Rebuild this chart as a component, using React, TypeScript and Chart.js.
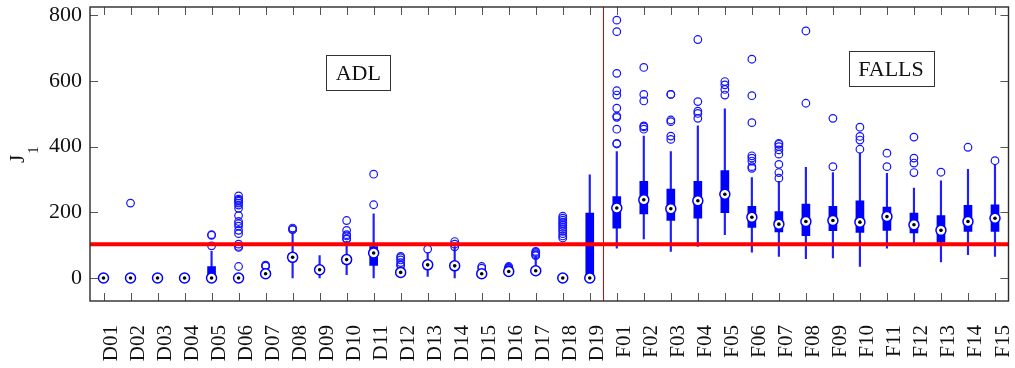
import { useEffect, useRef } from "react";
import { Chart, registerables } from "chart.js";

Chart.register(...registerables);

// Activity classes: daily-living activities (D) and fall types (F)
const categories = [
  "D01", "D02", "D03", "D04", "D05", "D06", "D07", "D08", "D09", "D10",
  "D11", "D12", "D13", "D14", "D15", "D16", "D17", "D18", "D19",
  "F01", "F02", "F03", "F04", "F05", "F06", "F07", "F08", "F09", "F10",
  "F11", "F12", "F13", "F14", "F15",
];

const medians = [
  0, 0, 0, 0, 0, 0, 13, 63, 25, 56, 76, 17, 40, 37, 13, 20, 22, 0, 0,
  213, 238, 211, 235, 255, 185, 164, 172, 175, 170, 187, 162, 145, 172, 182,
];

// Interquartile range (box)
const boxLow = [
  0, 0, 0, 0, 0, 0, 8, 52, 18, 45, 38, 10, 30, 28, 8, 14, 15, 0, 0,
  152, 195, 175, 182, 199, 154, 140, 129, 144, 139, 145, 137, 109, 142, 142,
];
const boxHigh = [
  0, 0, 0, 0, 35, 0, 20, 74, 34, 66, 96, 25, 50, 47, 20, 26, 30, 0, 198,
  248, 294, 271, 294, 327, 218, 202, 225, 218, 235, 216, 198, 190, 221, 223,
];

// Whisker extent
const whiskerLow = [
  0, 0, 0, 0, 0, 0, 5, 0, 0, 10, 0, 5, 5, 0, 5, 8, 10, 0, 0,
  91, 119, 81, 96, 132, 79, 66, 59, 61, 35, 91, 106, 49, 71, 66,
];
const whiskerHigh = [
  0, 0, 0, 0, 81, 0, 25, 140, 68, 112, 195, 30, 77, 96, 22, 30, 66, 0, 314,
  385, 432, 385, 463, 515, 306, 294, 337, 321, 380, 319, 274, 296, 331, 344,
];

const outliers: number[][] = [
  [],
  [228],
  [],
  [],
  [132, 130, 98],
  [250, 240, 237, 234, 228, 222, 212, 190, 172, 165, 158, 145, 135, 103, 96, 93, 35],
  [39, 37, 36],
  [152, 148, 147],
  [],
  [175, 145, 132, 128, 120, 118],
  [316, 223],
  [66, 62, 55, 47, 40, 38],
  [88],
  [111, 103, 95],
  [35, 30],
  [35, 32, 30, 28, 25, 22, 18],
  [81, 78, 74, 70, 68],
  [188, 182, 176, 170, 165, 160, 154, 148, 142, 135, 128, 122],
  [],
  [785, 750, 623, 570, 557, 517, 493, 489, 453, 410, 408],
  [641, 559, 539, 463, 460, 453],
  [559, 559, 481, 476, 432, 422],
  [726, 537, 508, 501, 486],
  [598, 588, 574, 557],
  [666, 555, 473, 372, 365, 356, 339, 334],
  [410, 407, 400, 390, 377, 346, 321, 304],
  [752, 532],
  [486, 339],
  [459, 431, 420, 392],
  [380, 339],
  [429, 365, 350, 321],
  [322],
  [398],
  [357],
];

const thresholdJ1 = 103;
const yTicks = [0, 200, 400, 600, 800];
const groupNames = ["ADL", "FALLS"];

const SERIF = "'Liberation Serif', 'Times New Roman', 'DejaVu Serif', serif";
const BLUE = "#0000ff";

const decorations = {
  id: "decorations",
  afterDatasetsDraw(chart: any) {
    const { ctx, chartArea } = chart;
    const { left, right, top, bottom } = chartArea;
    const xs = chart.scales.x;
    const ys = chart.scales.y;
    ctx.save();

    // separator between ADL and falls
    const sepX = xs.getPixelForValue(categories.indexOf("D19") + 0.5);
    ctx.strokeStyle = "rgb(225,0,0)";
    ctx.lineWidth = 1;
    ctx.beginPath();
    ctx.moveTo(Math.round(sepX) + 0.5, top);
    ctx.lineTo(Math.round(sepX) + 0.5, bottom);
    ctx.stroke();

    // detection threshold
    const ty = ys.getPixelForValue(thresholdJ1);
    ctx.strokeStyle = "#ff0000";
    ctx.lineWidth = 4;
    ctx.beginPath();
    ctx.moveTo(left, ty);
    ctx.lineTo(right, ty);
    ctx.stroke();

    // inward tick marks on all four sides
    ctx.strokeStyle = "#555";
    ctx.lineWidth = 1;
    ctx.beginPath();
    for (let i = 0; i < categories.length; i++) {
      const px = Math.round(xs.getPixelForValue(i)) + 0.5;
      ctx.moveTo(px, top);
      ctx.lineTo(px, top + 8);
      ctx.moveTo(px, bottom);
      ctx.lineTo(px, bottom - 8);
    }
    for (const v of yTicks) {
      const py = Math.round(ys.getPixelForValue(v)) + 0.5;
      ctx.moveTo(left, py);
      ctx.lineTo(left + 8, py);
      ctx.moveTo(right, py);
      ctx.lineTo(right - 8, py);
    }
    ctx.stroke();

    // frame
    ctx.strokeStyle = "#2b2b2b";
    ctx.lineWidth = 1.4;
    ctx.strokeRect(left, top, right - left, bottom - top);

    // group captions
    const anchors = [
      { x: 9.43, y: 625 },
      { x: 29.15, y: 637 },
    ];
    ctx.font = `22px ${SERIF}`;
    groupNames.forEach((name, k) => {
      const cx = xs.getPixelForValue(anchors[k].x);
      const cy = ys.getPixelForValue(anchors[k].y);
      const w = ctx.measureText(name).width + 19;
      const h = 35;
      ctx.fillStyle = "#fff";
      ctx.fillRect(cx - w / 2, cy - h / 2, w, h);
      ctx.strokeStyle = "#333";
      ctx.lineWidth = 1;
      ctx.strokeRect(Math.round(cx - w / 2) + 0.5, Math.round(cy - h / 2) + 0.5, Math.round(w), h);
      ctx.fillStyle = "#111";
      ctx.textAlign = "center";
      ctx.textBaseline = "alphabetic";
      ctx.fillText(name, cx, cy + 7.5);
    });

    // y-axis title J with subscript 1
    ctx.translate(24, 163);
    ctx.rotate(-Math.PI / 2);
    ctx.fillStyle = "#111";
    ctx.textAlign = "left";
    ctx.textBaseline = "alphabetic";
    ctx.font = `21px ${SERIF}`;
    ctx.fillText("J", 0, 0);
    const jw = ctx.measureText("J").width;
    ctx.font = `15px ${SERIF}`;
    ctx.fillText("1", jw + 1, 14);
    ctx.restore();
  },
};

export default function App() {
  const canvasRef = useRef<HTMLCanvasElement | null>(null);

  useEffect(() => {
    const canvas = canvasRef.current;
    if (!canvas) return;

    const outlierPoints: { x: string; y: number }[] = [];
    outliers.forEach((vals, i) => {
      vals.forEach((v) => outlierPoints.push({ x: categories[i], y: v }));
    });

    const chart = new Chart(canvas, {
      type: "bar",
      data: {
        labels: categories,
        datasets: [
          {
            type: "bar",
            data: categories.map((_, i) => [whiskerLow[i], whiskerHigh[i]]),
            backgroundColor: "rgb(30,30,255)",
            borderWidth: 0,
            barThickness: 1.5,
            grouped: false,
            order: 5,
          } as any,
          {
            type: "bar",
            data: categories.map((_, i) => [boxLow[i], boxHigh[i]]),
            backgroundColor: BLUE,
            borderWidth: 0,
            barThickness: 8,
            grouped: false,
            order: 4,
          } as any,
          {
            type: "line",
            data: outlierPoints,
            showLine: false,
            pointRadius: 3.8,
            pointBorderWidth: 1.2,
            pointBorderColor: "rgb(20,20,255)",
            pointBackgroundColor: "rgba(0,0,0,0)",
            order: 3,
          } as any,
          {
            type: "line",
            data: medians,
            showLine: false,
            pointRadius: 5,
            pointBorderWidth: 1.5,
            pointBorderColor: BLUE,
            pointBackgroundColor: "#fff",
            order: 2,
          } as any,
          {
            type: "line",
            data: medians,
            showLine: false,
            pointRadius: 1.8,
            pointBorderWidth: 0,
            pointBackgroundColor: "#000",
            order: 1,
          } as any,
        ],
      },
      options: {
        responsive: false,
        animation: false,
        devicePixelRatio: 1,
        events: [],
        layout: { padding: { left: 0, top: 7, right: 6, bottom: 0 } },
        plugins: {
          legend: { display: false },
          tooltip: { enabled: false },
        },
        scales: {
          x: {
            type: "category",
            offset: true,
            grid: { display: false, drawTicks: false },
            border: { display: false },
            ticks: {
              autoSkip: false,
              minRotation: 90,
              maxRotation: 90,
              padding: 24,
              labelOffset: 8,
              color: "#111",
              font: { family: SERIF, size: 21 },
            },
            afterFit(scale: any) {
              scale.height = 67;
              scale.paddingLeft = 0;
              scale.paddingRight = 0;
            },
          },
          y: {
            type: "linear",
            min: -70,
            max: 825,
            grid: { display: false, drawTicks: false },
            border: { display: false },
            ticks: {
              padding: 8,
              color: "#111",
              font: { family: SERIF, size: 22 },
            },
            afterBuildTicks(scale: any) {
              scale.ticks = yTicks.map((v) => ({ value: v }));
            },
            afterFit(scale: any) {
              scale.width = 90;
              scale.paddingTop = 0;
              scale.paddingBottom = 0;
            },
          },
        },
      },
      plugins: [decorations],
    });

    return () => chart.destroy();
  }, []);

  return (
    <div style={{ position: "absolute", left: 0, top: 0, width: 1015, height: 368, background: "#fff" }}>
      <canvas ref={canvasRef} width={1015} height={368} style={{ display: "block" }} />
    </div>
  );
}
